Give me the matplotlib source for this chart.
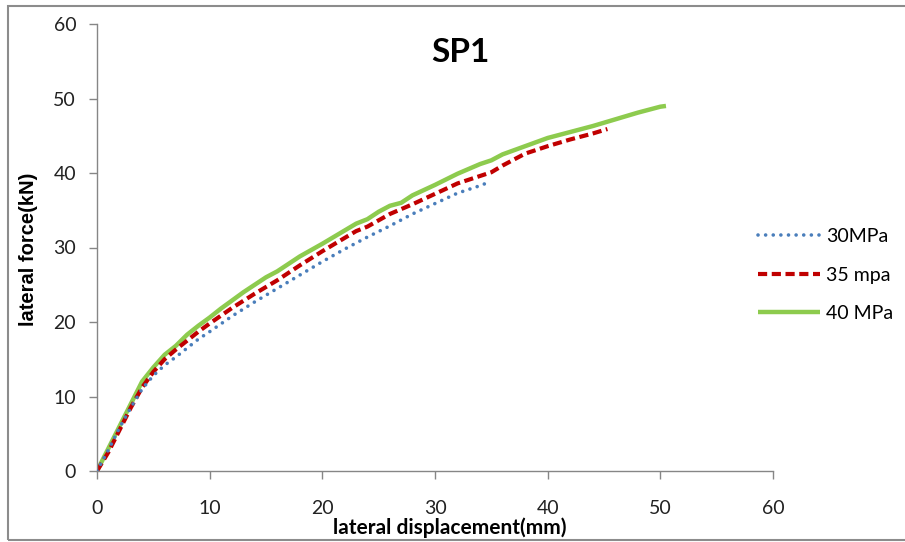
import matplotlib
matplotlib.use("Agg")
import matplotlib.pyplot as plt
from matplotlib.patches import Rectangle

plt.rcParams['font.family'] = ['Lato', 'DejaVu Sans']

# ---- data ----
x_30 = [0, 1, 2, 3, 4, 5, 6, 7, 8, 9, 10, 12, 14, 16, 18, 20, 22, 24, 26, 28, 30, 32, 34, 34.5]
y_30 = [0, 2.8, 5.8, 8.5, 11.0, 12.8, 14.2, 15.3, 16.5, 17.7, 18.7, 20.8, 22.7, 24.5, 26.3, 28.1, 29.8, 31.4, 32.9, 34.5, 35.9, 37.3, 38.3, 38.6]

x_35 = [0, 1, 2, 3, 4, 5, 6, 7, 8, 9, 10, 12, 14, 16, 18, 20, 22, 23, 24, 26, 28, 30, 32, 34, 35, 36, 38, 40, 42, 44, 45.3]
y_35 = [0, 2.5, 5.5, 8.5, 11.2, 13.3, 15.0, 16.3, 17.5, 18.7, 19.8, 21.9, 23.8, 25.6, 27.6, 29.5, 31.3, 32.2, 32.8, 34.5, 35.8, 37.2, 38.6, 39.6, 40.1, 41.0, 42.6, 43.6, 44.5, 45.3, 45.9]

x_40 = [0, 1, 2, 3, 4, 5, 6, 7, 8, 9, 10, 11, 12, 13, 14, 15, 16, 17, 18, 20, 22, 23, 24, 25, 26, 27, 28, 30, 32, 34, 35, 36, 38, 40, 42, 44, 46, 48, 50, 50.5]
y_40 = [0, 3.0, 6.0, 9.0, 12.0, 13.9, 15.6, 16.8, 18.3, 19.5, 20.6, 21.8, 22.9, 24.0, 25.0, 26.0, 26.8, 27.8, 28.8, 30.5, 32.3, 33.2, 33.8, 34.8, 35.6, 36.0, 37.0, 38.4, 39.9, 41.2, 41.7, 42.5, 43.6, 44.7, 45.5, 46.3, 47.2, 48.1, 48.9, 49.0]

labels = ['30MPa', '35 mpa', '40 MPa']
x_ticks = [0, 10, 20, 30, 40, 50, 60]
y_ticks = [0, 10, 20, 30, 40, 50, 60]

fig = plt.figure(figsize=(9.05, 5.42), dpi=100)
ax = fig.add_axes([97/905, 1-471/542, 676/905, 447/542])

ax.plot(x_30, y_30, color='#4A7EBB', lw=2.6, linestyle=(0, (0.01, 2.1)),
        dash_capstyle='round', label=labels[0], zorder=3)
ax.plot(x_35, y_35, color='#C00000', lw=3.0, linestyle=(0, (2.2, 1.1)),
        dash_capstyle='butt', label=labels[1], zorder=2)
ax.plot(x_40, y_40, color='#8DCB4E', lw=3.2, linestyle='-',
        solid_capstyle='butt', label=labels[2], zorder=1)

ax.set_xlim(0, 60)
ax.set_ylim(0, 60)
ax.set_xticks(x_ticks)
ax.set_yticks(y_ticks)

for s in ['top', 'right']:
    ax.spines[s].set_visible(False)
for s in ['left', 'bottom']:
    ax.spines[s].set_color('#868686')
    ax.spines[s].set_linewidth(1.0)

ax.tick_params(axis='x', direction='out', length=6, width=1, color='#868686',
               labelsize=14, pad=15, labelcolor='#222222')
ax.tick_params(axis='y', direction='out', length=6, width=1, color='#868686',
               labelsize=14, pad=9, labelcolor='#222222')

ax.set_xlabel('lateral displacement(mm)', fontsize=15, fontweight='bold')
ax.xaxis.set_label_coords(0.522, -0.103)
ax.set_ylabel('lateral force(kN)', fontsize=14.5, fontweight='bold',
              family=['Liberation Sans', 'DejaVu Sans'])
ax.yaxis.set_label_coords(-0.088, 0.497)

fig.text(460/905, 1-52/542, 'SP1', fontsize=24, fontweight='bold',
         ha='center', va='center')

fig.legend(loc='center left', bbox_to_anchor=(758/905, 1-275/542),
           frameon=False, fontsize=14, handlelength=3.2, handletextpad=0.3,
           labelspacing=1.1, borderpad=0, borderaxespad=0)

fig.patches.append(Rectangle((8/905, 2/542), 1.0, 534/542, transform=fig.transFigure,
                             fill=False, edgecolor='#8C8C8C', lw=1.5, figure=fig))

fig.savefig('out.png', dpi=100)
